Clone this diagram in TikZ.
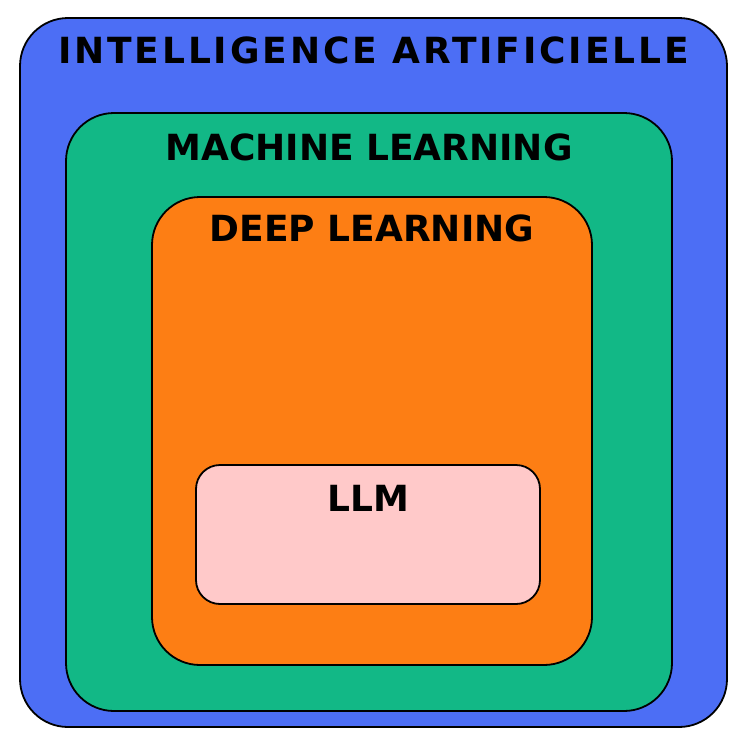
\documentclass[tikz,border=0pt]{standalone}
\usepackage{fontspec}
\newfontfamily\sketchfont{DejaVu Sans Bold}
\newfontfamily\sketchwidefont[LetterSpace=8]{DejaVu Sans Bold}
\usetikzlibrary{positioning}

\definecolor{aiblue}{HTML}{4C6EF5}
\definecolor{mlgreen}{HTML}{12B886}
\definecolor{dlorange}{HTML}{FD7E14}
\definecolor{llmpink}{HTML}{FFC9C9}

\begin{document}
\begin{tikzpicture}[
  x=1pt, y=-1pt,
  every node/.style={inner sep=0pt, outer sep=0pt},
  field/.style={draw=black, line width=1.8pt, rounded corners=#1},
  field/.default=48pt,
  fieldname/.style={font=\sketchfont\fontsize{36}{36}\selectfont, text=black},
]
%-------------------------------------------------------------
\useasboundingbox (0,0) rectangle (746,748);

%============================================================
\node[field, fill=aiblue, minimum width=707pt, minimum height=709pt]
  (ai) at (373.5,372.5) {};
\node[fieldname, font=\sketchwidefont\fontsize{36}{36}\selectfont]
  (ainame) at ([yshift=-32pt]ai.north) {INTELLIGENCE ARTIFICIELLE};
%============================================================
\node[field, fill=mlgreen, minimum width=606pt, minimum height=598pt]
  (ml) at (369,412) {};
\node[fieldname] (mlname) at ([yshift=-34pt]ml.north) {MACHINE LEARNING};
%============================================================
\node[field, fill=dlorange, minimum width=440pt, minimum height=468pt]
  (dl) at (372,431) {};
\node[fieldname] (dlname) at ([yshift=-31pt]dl.north) {DEEP LEARNING};
%============================================================
\node[field=24pt, fill=llmpink, minimum width=344pt, minimum height=139pt]
  (llm) at (368,534.5) {};
\node[fieldname] (llmname) at ([yshift=-33pt]llm.north) {LLM};
%============================================================

\end{tikzpicture}
\end{document}
